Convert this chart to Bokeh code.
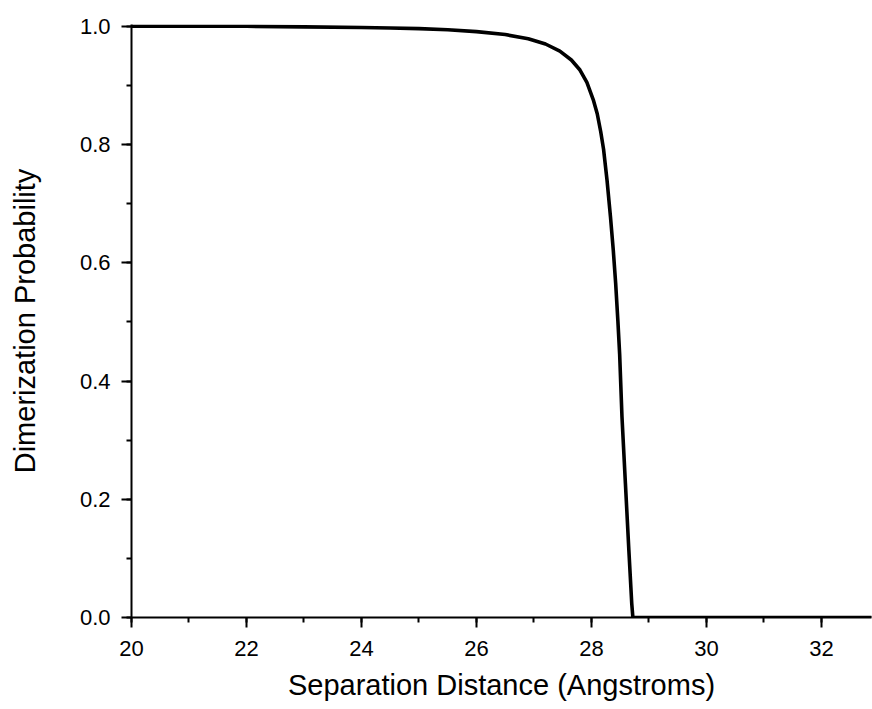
from bokeh.plotting import figure
from bokeh.models import Range1d, SingleIntervalTicker, PrintfTickFormatter
from bokeh.embed import file_html
from bokeh.resources import INLINE

# Data
separation = [20.0, 21.0, 22.0, 23.0, 24.0, 24.5, 25.0, 25.5, 26.0, 26.5, 26.9, 27.2, 27.45,
              27.65, 27.8, 27.92, 28.03, 28.1, 28.16, 28.21, 28.27, 28.33, 28.38, 28.42,
              28.46, 28.49, 28.53, 28.59, 28.65, 28.7, 28.72, 29.0, 30.0, 31.0, 32.0, 33.0]
probability = [1.0, 1.0, 1.0, 0.999, 0.998, 0.997, 0.996, 0.994, 0.991, 0.986, 0.979, 0.97, 0.958,
               0.943, 0.926, 0.905, 0.876, 0.852, 0.822, 0.792, 0.74, 0.678, 0.62, 0.566,
               0.5, 0.445, 0.34, 0.227, 0.114, 0.024, 0.0, 0.0, 0.0, 0.0, 0.0, 0.0]

x_label = "Separation Distance (Angstroms)"
y_label = "Dimerization Probability"

FONT = "Liberation Sans"

p = figure(width=872, height=709, output_backend="svg", toolbar_location=None,
           x_range=Range1d(20, 32.87), y_range=Range1d(0, 1.003),
           min_border_left=131, min_border_right=1, min_border_top=24, min_border_bottom=92)

p.line(separation, probability, line_color="black", line_width=3.6)

p.outline_line_color = None
p.grid.grid_line_color = None
p.background_fill_color = "white"
p.border_fill_color = "white"

p.xaxis.ticker = SingleIntervalTicker(interval=2, num_minor_ticks=2)
p.yaxis.ticker = SingleIntervalTicker(interval=0.2, num_minor_ticks=2)
p.yaxis.formatter = PrintfTickFormatter(format="%.1f")

for ax in (p.xaxis[0], p.yaxis[0]):
    ax.axis_line_width = 2
    ax.axis_line_color = "black"
    ax.major_tick_line_width = 2
    ax.minor_tick_line_width = 2
    ax.major_tick_line_color = "black"
    ax.minor_tick_line_color = "black"
    ax.major_tick_out = 10
    ax.major_tick_in = 0
    ax.minor_tick_out = 5
    ax.minor_tick_in = 0
    ax.major_label_text_font = FONT
    ax.major_label_text_font_size = "22px"
    ax.major_label_text_color = "black"
    ax.axis_label_text_font = FONT
    ax.axis_label_text_font_size = "29px"
    ax.axis_label_text_font_style = "normal"
    ax.axis_label_text_color = "black"

p.xaxis.axis_label = x_label
p.yaxis.axis_label = y_label
p.xaxis.major_label_standoff = 13
p.yaxis.major_label_standoff = 11
p.xaxis.axis_label_standoff = 10
p.yaxis.axis_label_standoff = 36

open("out.html", "w").write(file_html(p, INLINE))
